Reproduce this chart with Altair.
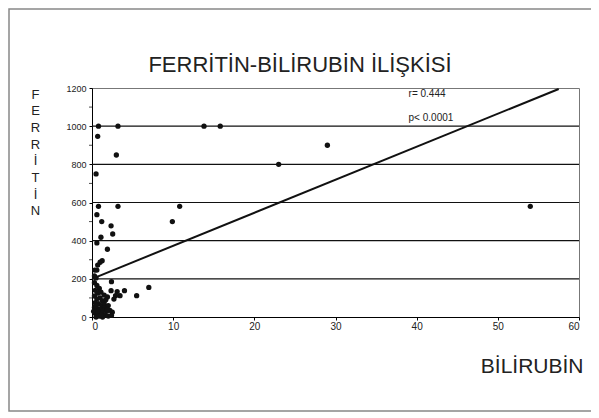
import altair as alt
import pandas as pd

# Scatter data (bilirubin, ferritin)
bilirubin = [0.8, 3.2, 13.8, 15.8, 0.7, 3.0, 0.5, 0.8, 3.2, 10.8, 9.9, 0.6, 1.2, 2.35, 2.55,
             1.1, 0.6, 1.9, 1.25, 1.0, 0.7, 0.35, 0.6, 2.4, 2.35, 4.0, 3.45, 2.9, 2.7, 1.9,
             5.5, 7.0, 3.1, 23.0, 29.0, 54.0,
             0.3, 0.6, 0.9, 0.4, 0.7, 1.1, 1.5, 0.3, 0.6, 1.0, 1.3, 0.4, 0.8, 1.2, 1.6, 2.0,
             0.3, 0.6, 1.0, 1.4, 1.8, 2.2, 2.5, 0.4, 0.8, 1.2, 1.6, 2.0, 2.4, 0.5, 0.9, 1.3,
             0.2, 1.1, 0.7, 1.5, 1.9, 0.5, 1.7, 0.3, 0.5]
ferritin = [1000, 1000, 1000, 1000, 947, 849, 750, 580, 580, 580, 500, 536, 500, 478, 435,
            418, 388, 355, 295, 287, 272, 246, 246, 185, 138, 138, 112, 112, 94, 105,
            112, 155, 133, 800, 900, 580,
            180, 165, 150, 140, 125, 130, 115, 110, 95, 100, 85, 75, 70, 60, 55, 60,
            50, 45, 40, 35, 30, 35, 25, 20, 15, 20, 10, 5, 8, 0, 5, 0,
            30, 10, 30, 75, 40, 60, 90, 215, 205]

# Regression line end points
line_x = [0, 57.5]
line_y = [200, 1195]

# Annotation texts
ann_text = ["r= 0.444", "p< 0.0001"]
ann_x = [39.0, 39.0]
ann_y = [1168, 1043]

# Horizontal grid lines and minor y ticks
grid_y = [200, 400, 600, 800, 1000]
minor_y = [100, 300, 500, 700, 900, 1100]

chart_title = "FERRİTİN-BİLİRUBİN İLİŞKİSİ"
y_title = ["F", "E", "R", "R", "İ", "T", "İ", "N"]
x_ticks = [0, 10, 20, 30, 40, 50, 60]
y_ticks = [0, 200, 400, 600, 800, 1000, 1200]

pts = pd.DataFrame({"b": bilirubin, "f": ferritin})
ln = pd.DataFrame({"b": line_x, "f": line_y})
ann = pd.DataFrame({"b": ann_x, "f": ann_y, "t": ann_text})
grd = pd.DataFrame({"f": grid_y})
mnr = pd.DataFrame({"f": minor_y})

xs = alt.Scale(domain=[0, 60], nice=False, zero=False)
ys = alt.Scale(domain=[0, 1200], nice=False, zero=False)

x_axis = alt.Axis(values=x_ticks, title="BİLİRUBİN", grid=False, tickSize=3,
                  tickColor="#000", domainColor="#000", labelFontSize=10,
                  labelColor="#222", labelFont="Liberation Sans", labelOverlap=False,
                  titleFont="Liberation Sans", titleFontSize=21, titleFontWeight="normal",
                  titleColor="#222", titleAlign="right", titleX=491, titleY=55,
                  titleBaseline="alphabetic", labelPadding=1)
y_axis = alt.Axis(values=y_ticks, title=y_title, tickSize=3, tickColor="#000",
                  domainColor="#000", labelFontSize=9, labelColor="#222",
                  labelFont="Liberation Sans", labelPadding=3, labelOverlap=False,
                  format="d", grid=False,
                  titleFont="Liberation Sans", titleFontSize=13, titleFontWeight="normal",
                  titleColor="#222", titleAngle=0, titleAlign="center",
                  titleBaseline="top", titleLineHeight=16.7, titleX=-57, titleY=0)

X = alt.X("b:Q", scale=xs, axis=x_axis)
Y = alt.Y("f:Q", scale=ys, axis=y_axis)

points = alt.Chart(pts).mark_circle(size=28, color="#111", opacity=1).encode(x=X, y=Y)
grid = alt.Chart(grd).mark_rule(color="#111", strokeWidth=1.2).encode(y=Y)
minor = alt.Chart(mnr).mark_tick(orient="horizontal", size=3, thickness=1,
                                 color="#000").encode(y=Y, x=alt.value(-1.5))
reg = alt.Chart(ln).mark_line(color="#111", strokeWidth=2).encode(x=X, y=Y)
txt = alt.Chart(ann).mark_text(align="left", baseline="middle", fontSize=10,
                               font="Liberation Sans", color="#222").encode(
    x=X, y=Y, text="t:N"
)
ttl = alt.Chart(pd.DataFrame({"t": [chart_title]})).mark_text(
    align="center", baseline="alphabetic", fontSize=22, font="Liberation Sans",
    color="#222"
).encode(x=alt.value(208), y=alt.value(-16), text="t:N")
border = alt.Chart(pd.DataFrame({"k": [0]})).mark_rect(
    filled=False, stroke="#888", strokeWidth=1.5
).encode(x=alt.value(-83), x2=alt.value(504), y=alt.value(-79), y2=alt.value(323))

chart = alt.layer(points, border, grid, minor, reg, txt, ttl).properties(
    width=487, height=229,
    padding={"left": 84, "top": 80, "right": 12, "bottom": 95},
    autosize=alt.AutoSizeParams(type="none"),
    background="white",
).configure_view(stroke="#777", strokeWidth=1)

chart.save("out.html", embed_options={"renderer": "svg", "actions": False})
